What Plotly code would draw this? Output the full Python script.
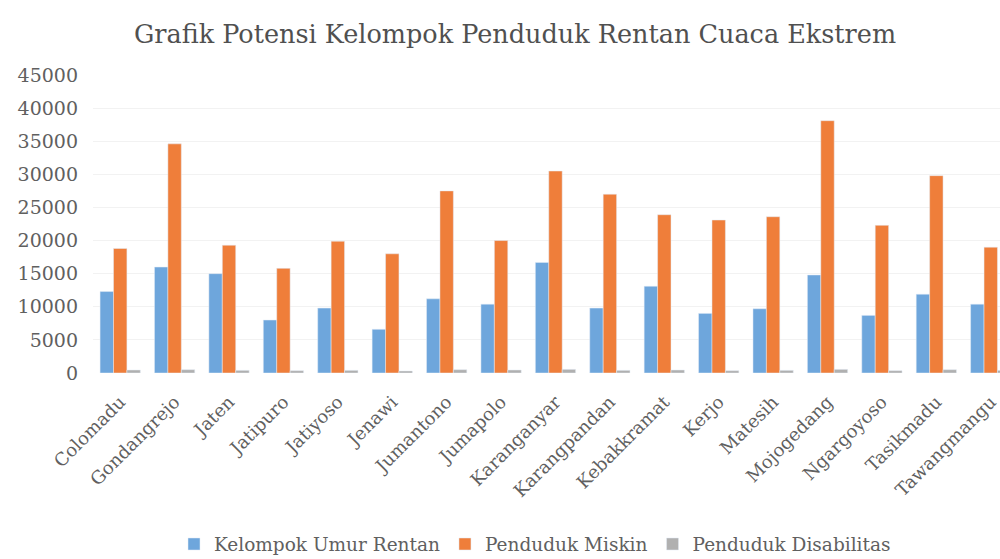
import plotly.graph_objects as go

categories = ["Colomadu", "Gondangrejo", "Jaten", "Jatipuro", "Jatiyoso", "Jenawi",
              "Jumantono", "Jumapolo", "Karanganyar", "Karangpandan", "Kebakkramat",
              "Kerjo", "Matesih", "Mojogedang", "Ngargoyoso", "Tasikmadu", "Tawangmangu"]
umur_rentan = [12300, 16000, 15000, 8000, 9800, 6600, 11200, 10400, 16700, 9800,
               13100, 9000, 9700, 14800, 8700, 11900, 10400]
miskin = [18800, 34600, 19300, 15800, 19900, 18000, 27500, 20000, 30500, 27000,
          23900, 23100, 23600, 38100, 22300, 29800, 19000]
disabilitas = [450, 500, 400, 350, 400, 300, 500, 450, 550, 400,
               450, 350, 400, 550, 350, 500, 400]
y_ticks = [0, 5000, 10000, 15000, 20000, 25000, 30000, 35000, 40000, 45000]

font_family = "DejaVu Serif, Liberation Serif, serif"

fig = go.Figure()
fig.add_trace(go.Bar(x=categories, y=umur_rentan, name="Kelompok Umur Rentan",
                     marker_color="#6EA6DC"))
fig.add_trace(go.Bar(x=categories, y=miskin, name="Penduduk Miskin",
                     marker_color="#EF7E3A"))
fig.add_trace(go.Bar(x=categories, y=disabilitas, name="Penduduk Disabilitas",
                     marker_color="#B0B0B0"))

fig.update_layout(
    width=1000, height=559,
    barmode="group", bargap=0.26, bargroupgap=0,
    plot_bgcolor="white", paper_bgcolor="white",
    margin=dict(l=93, r=0, t=75, b=186),
    title=dict(text="Grafik Potensi Kelompok Penduduk Rentan Cuaca Ekstrem",
               xref="container", yref="container",
               x=0.515, xanchor="center", y=0.939, yanchor="middle",
               font=dict(family=font_family, size=25.5, color="#505050")),
    font=dict(family=font_family, color="#606060"),
    xaxis=dict(range=[-0.5, 16.17], tickangle=-45, tickfont=dict(size=18, color="#606060"),
               showgrid=False, showline=False, ticks="", automargin=False,
               ticklabelstandoff=14),
    yaxis=dict(range=[0, 45000], tickvals=y_ticks, ticktext=[str(v) for v in y_ticks],
               tickfont=dict(size=19, color="#606060"), showgrid=True,
               gridcolor="#F2F2F2", gridwidth=1, zeroline=False, showline=False,
               ticklabelstandoff=14, automargin=False),
    legend=dict(orientation="h", xref="container", yref="container",
                x=0.535, xanchor="center", y=0.026, yanchor="middle",
                font=dict(size=18.5, color="#606060"), traceorder="normal",
                itemwidth=30),
    showlegend=True,
)

fig.write_html("out.html", config={"displayModeBar": False},
               post_script="document.body.style.margin='0';")
